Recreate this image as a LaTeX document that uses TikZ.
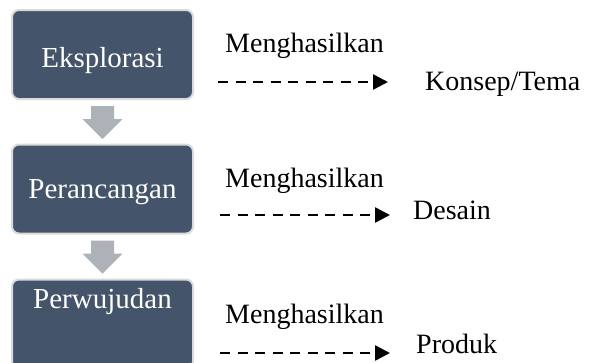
\documentclass[tikz,border=0pt]{standalone}
\usepackage{fontspec}
\setmainfont{Liberation Serif}
\usetikzlibrary{arrows.meta,calc}

\definecolor{boxfill}{HTML}{44546A}
\definecolor{boxline}{HTML}{DADADA}
\definecolor{flowgray}{HTML}{ADB1B8}

\tikzset{
  procbox/.style={draw=boxline, line width=2pt, fill=boxfill, rounded corners=7pt,
    minimum width=181pt, minimum height=89pt, inner sep=0pt},
  boxtext/.style={text=white, font=\fontsize{29}{32}\selectfont, anchor=base, inner sep=0pt},
  sidetext/.style={font=\fontsize{28}{32}\selectfont, anchor=base west, inner sep=0pt},
  resultline/.style={line width=2.5pt, dash pattern=on 10pt off 7.5pt,
    -{Triangle[length=15pt,width=15pt]}},
}

\begin{document}
\begin{tikzpicture}[x=1pt,y=-1pt]
\useasboundingbox (0,0) rectangle (595,362);

% Process boxes
\node[procbox] (box1) at (102.5,54.5) {};
\node[procbox] (box2) at (102.5,189) {};
\node[procbox] (box3) at (102.5,324) {};
\node[boxtext] (step1) at (102.5,67) {Eksplorasi};
\node[boxtext] (step2) at (102.5,198) {Perancangan};
\node[boxtext] (step3) at (102.5,308) {Perwujudan};

% Gray flow arrows between boxes
\foreach \src/\dst in {box1/box2,box2/box3}
  \fill[flowgray] ($(\src.south)+(-11.5,6)$) -- ++(23,0) -- ++(0,13) -- ++(8.5,0)
    -- ++(-20,20) -- ++(-20,-20) -- ++(8.5,0) -- cycle;

% Outputs of each step
\foreach \i/\ym/\ya/\xs/\xe/\xr/\yr/\res in
    {1/52/82/218/388/425/90/{Konsep/Tema},
     2/187/215/220/390/413/219/Desain,
     3/323/353/220/390/416/353/Produk}{
  \node[sidetext] (gen\i) at (225,\ym) {Menghasilkan};
  \coordinate (from\i) at (\xs,\ya);
  \coordinate (to\i) at (\xe,\ya);
  \draw[resultline] (from\i) -- (to\i);
  \node[sidetext] (res\i) at (\xr,\yr) {\res};
}

\end{tikzpicture}
\end{document}
